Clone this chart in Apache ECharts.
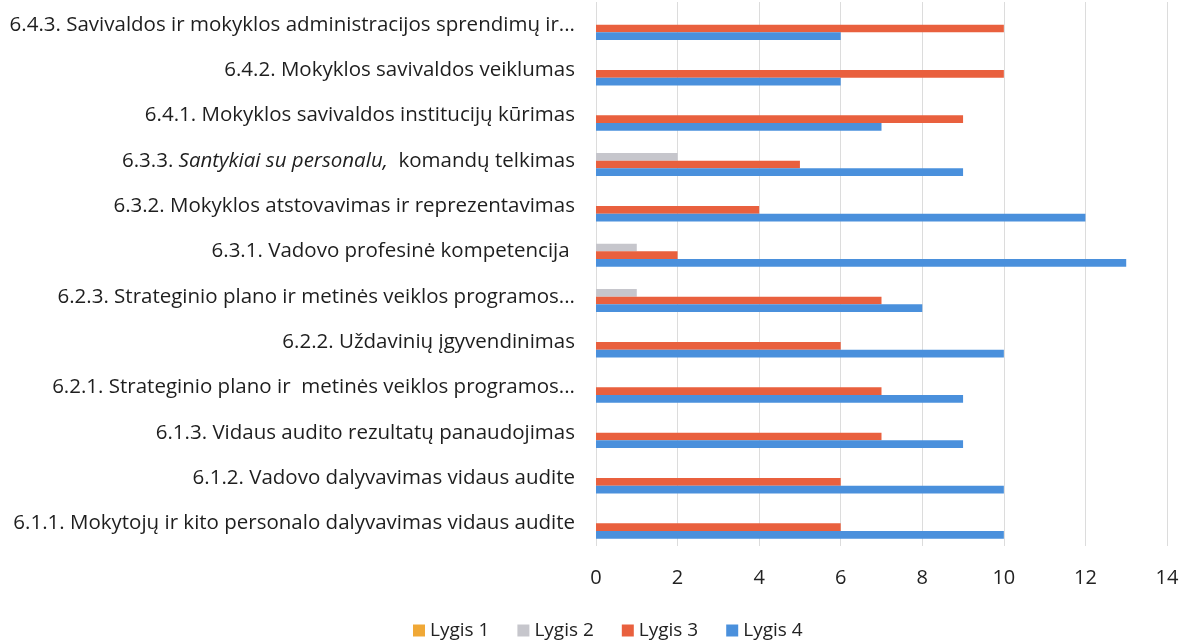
<!DOCTYPE html>
<html>
<head>
<meta charset="utf-8">
<script src="https://cdn.jsdelivr.net/npm/echarts@6/dist/echarts.min.js"></script>
<style>
  html, body { margin: 0; padding: 0; background: #fff; }
  #chart { width: 1184px; height: 641px; }
</style>
</head>
<body>
<div id="chart"></div>
<script>
// categories listed bottom to top
const categories = [
  '6.1.1. Mokytojų ir kito personalo dalyvavimas vidaus audite',
  '6.1.2. Vadovo dalyvavimas vidaus audite',
  '6.1.3. Vidaus audito rezultatų panaudojimas',
  '6.2.1. Strateginio plano ir  metinės veiklos programos...',
  '6.2.2. Uždavinių įgyvendinimas',
  '6.2.3. Strateginio plano ir metinės veiklos programos...',
  '6.3.1. Vadovo profesinė kompetencija ',
  '6.3.2. Mokyklos atstovavimas ir reprezentavimas',
  '6.3.3. Santykiai su personalu,  komandų telkimas',
  '6.4.1. Mokyklos savivaldos institucijų kūrimas',
  '6.4.2. Mokyklos savivaldos veiklumas',
  '6.4.3. Savivaldos ir mokyklos administracijos sprendimų ir...'
];
const lygis1 = [0, 0, 0, 0, 0, 0, 0, 0, 0, 0, 0, 0];
const lygis2 = [0, 0, 0, 0, 0, 1, 1, 0, 2, 0, 0, 0];
const lygis3 = [6, 6, 7, 7, 6, 7, 2, 4, 5, 9, 10, 10];
const lygis4 = [10, 10, 9, 9, 10, 8, 13, 12, 9, 7, 6, 6];
const xTicks = [0, 2, 4, 6, 8, 10, 12, 14];

const chart = echarts.init(document.getElementById('chart'), null, { renderer: 'canvas' });
const font = '"Open Sans", sans-serif';

chart.setOption({
  animation: false,
  textStyle: { fontFamily: font },
  grid: { left: 596, right: 17, top: 2, bottom: 95, containLabel: false },
  legend: {
    top: 616,
    left: 408,
    itemWidth: 12,
    itemHeight: 12,
    itemGap: 28,
    icon: 'rect',
    textStyle: { fontSize: 19, color: '#222', fontFamily: font },
    data: ['Lygis 1', 'Lygis 2', 'Lygis 3', 'Lygis 4']
  },
  xAxis: {
    type: 'value',
    min: xTicks[0],
    max: xTicks[xTicks.length - 1],
    interval: 2,
    axisLine: { show: false },
    axisTick: { show: false },
    splitLine: { lineStyle: { color: '#dcdcdc', width: 1 } },
    axisLabel: { fontSize: 20, color: '#222', margin: 22, fontFamily: font }
  },
  yAxis: {
    type: 'category',
    data: categories,
    axisLine: { show: false },
    axisTick: { show: false },
    axisLabel: {
      fontSize: 20.5,
      color: '#1e1e1e',
      margin: 21,
      fontFamily: font,
      formatter: function (v) {
        if (v.indexOf('Santykiai') >= 0) {
          return '6.3.3. {i|Santykiai su personalu,}  komandų telkimas';
        }
        return v;
      },
      rich: {
        i: { fontStyle: 'italic', fontSize: 20.5, color: '#1e1e1e', fontFamily: font }
      }
    }
  },
  series: [
    { name: 'Lygis 1', type: 'bar', data: lygis1, itemStyle: { color: '#f0a836' }, barGap: '0%', barCategoryGap: '32%' },
    { name: 'Lygis 2', type: 'bar', data: lygis2, itemStyle: { color: '#c6c6cc' } },
    { name: 'Lygis 3', type: 'bar', data: lygis3, itemStyle: { color: '#e9603e' } },
    { name: 'Lygis 4', type: 'bar', data: lygis4, itemStyle: { color: '#4a90dc' } }
  ]
});
window.addEventListener('resize', function () { chart.resize(); });
</script>
</body>
</html>
